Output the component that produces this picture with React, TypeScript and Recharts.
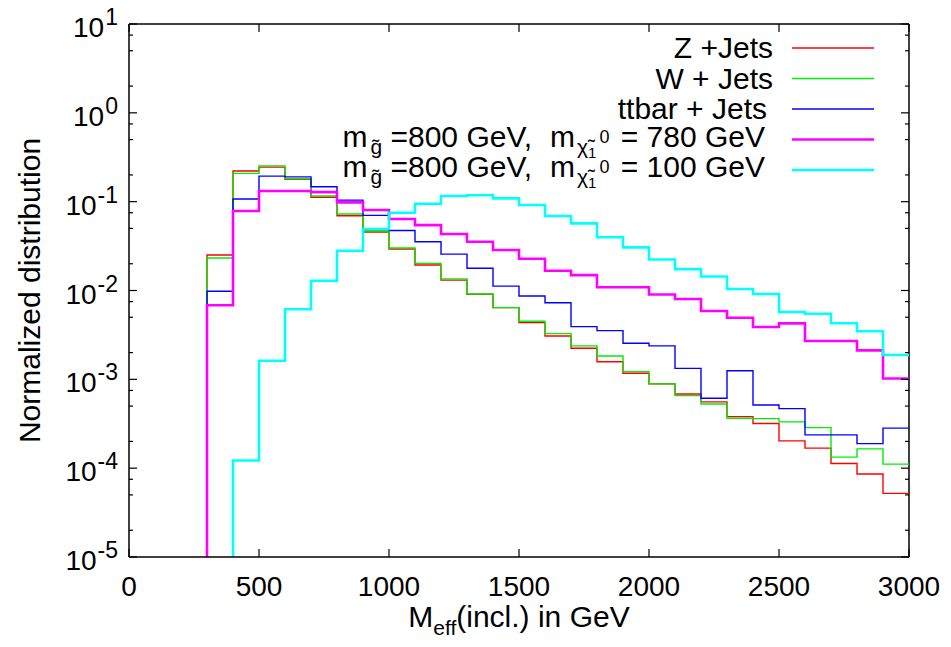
import React from 'react';
import { LineChart, Line, XAxis, YAxis, ReferenceLine } from 'recharts';

// lower edges of the 100 GeV bins
const binStarts = [
  300, 400, 500, 600, 700, 800, 900, 1000, 1100, 1200, 1300, 1400, 1500, 1600,
  1700, 1800, 1900, 2000, 2100, 2200, 2300, 2400, 2500, 2600, 2700, 2800, 2900,
];

const zJets = [
  0.0251, 0.221, 0.245, 0.178, 0.112, 0.0694, 0.0455, 0.0293, 0.0194, 0.0131, 0.00906, 0.00641, 0.00435, 0.00308,
  0.00224, 0.00158, 0.00117, 0.000888, 0.000685, 0.000557, 0.00038, 0.000318, 0.000203, 0.000168, 0.000113, 0.000086, 0.000052,
];
const wJets = [
  0.0232, 0.208, 0.253, 0.181, 0.116, 0.0726, 0.0471, 0.0301, 0.0202, 0.0135, 0.00914, 0.00641, 0.00451, 0.00327,
  0.00238, 0.00183, 0.00122, 0.000888, 0.000656, 0.000528, 0.000365, 0.000361, 0.000332, 0.000286, 0.000133, 0.000165, 0.000111,
];
const ttbarJets = [
  0.0098, 0.107, 0.194, 0.19, 0.147, 0.104, 0.0701, 0.0473, 0.0354, 0.0257, 0.0178, 0.0112, 0.00867, 0.00729,
  0.00392, 0.00353, 0.00255, 0.00238, 0.00133, 0.000613, 0.00125, 0.000515, 0.000468, 0.000237, 0.000237, 0.000189, 0.000282,
];
const gluino780 = [
  0.00682, 0.0784, 0.132, 0.132, 0.128, 0.0982, 0.0805, 0.0637, 0.0545, 0.0432, 0.0354, 0.0286, 0.0228, 0.0167,
  0.0149, 0.0109, 0.0109, 0.00902, 0.00802, 0.00588, 0.00494, 0.00388, 0.00427, 0.0027, 0.0027, 0.00212, 0.00102,
];
const gluino100 = [
  null, 0.000122, 0.00162, 0.00615, 0.0129, 0.028, 0.0492, 0.075, 0.0947, 0.116, 0.118, 0.109, 0.0916, 0.0689,
  0.057, 0.0397, 0.0306, 0.0223, 0.0174, 0.0144, 0.0104, 0.00914, 0.00573, 0.00548, 0.00428, 0.00348, 0.00188,
];

const xTicks = [0, 500, 1000, 1500, 2000, 2500, 3000];
const decades = [-5, -4, -3, -2, -1, 0, 1];
const minorSteps = [2, 5, 7.5];

const W = 951;
const H = 647;
const AXIS_W = 1;
const M = { top: 24, right: 42, bottom: 90 - AXIS_W, left: 129 - AXIS_W };
const PLOT_L = 129;
const PLOT_T = 24;
const PW = 780;
const PH = 533;
const FONT = '"Liberation Sans", Arial, Helvetica, sans-serif';

const Y_MIN = 10 ** decades[0];
const Y_MAX = 10 ** decades[decades.length - 1];
const BIN_W = binStarts[1] - binStarts[0];

const yTicks: number[] = [];
decades.forEach((d) => {
  yTicks.push(10 ** d);
  if (d < decades[decades.length - 1]) minorSteps.forEach((m) => yTicks.push(m * 10 ** d));
});

// histogram outline: rise from the floor at the first filled bin, step along, close at the last edge
function toSteps(values: (number | null)[]) {
  const pts: { m: number; v: number }[] = [];
  values.forEach((v, i) => {
    if (v == null) return;
    if (pts.length === 0) pts.push({ m: binStarts[i], v: Y_MIN });
    pts.push({ m: binStarts[i], v });
  });
  pts.push({ m: binStarts[binStarts.length - 1] + BIN_W, v: values[values.length - 1] as number });
  return pts;
}

const series = [
  { key: 'z', data: zJets, color: '#ff0000', width: 1.4 },
  { key: 'w', data: wJets, color: '#00ee00', width: 1.4 },
  { key: 'tt', data: ttbarJets, color: '#0000ff', width: 1.4 },
  { key: 'g780', data: gluino780, color: '#ff00ff', width: 2.6 },
  { key: 'g100', data: gluino100, color: '#00ffff', width: 2.6 },
];

function YTick(props: any) {
  const { y, payload } = props;
  const e = Math.log10(payload.value);
  const major = Math.abs(e - Math.round(e)) < 1e-9;
  const len = major ? 8 : 4;
  const x0 = PLOT_L;
  const x1 = PLOT_L + PW;
  return (
    <g>
      <line x1={x0} x2={x0 + len} y1={y} y2={y} stroke="#000" strokeWidth={1.2} />
      <line x1={x1} x2={x1 - len} y1={y} y2={y} stroke="#000" strokeWidth={1.2} />
      {major && (
        <text x={x0 - 11} y={y + 13} textAnchor="end" fontSize={28} fontFamily={FONT} fill="#000">
          10<tspan dx={1} dy={-12} fontSize={23}>{Math.round(e)}</tspan>
        </text>
      )}
    </g>
  );
}

function XTick(props: any) {
  const { x, payload } = props;
  const yb = PLOT_T + PH;
  return (
    <g>
      <line x1={x} x2={x} y1={yb} y2={yb - 8} stroke="#000" strokeWidth={1.2} />
      <line x1={x} x2={x} y1={PLOT_T} y2={PLOT_T + 8} stroke="#000" strokeWidth={1.2} />
      <text x={x} y={yb + 39} textAnchor="middle" fontSize={28} fontFamily={FONT} fill="#000">
        {payload.value}
      </text>
    </g>
  );
}

function MassLabel({ lsp }: { lsp: string }) {
  return (
    <>
      m<tspan dx={3} dy={7} fontSize={21}>g̃</tspan>
      <tspan dy={-7} fontSize={30}>{' =800 GeV,'}</tspan>
      <tspan dx={18} fontSize={30}>m</tspan>
      <tspan dx={2} dy={7} fontSize={21}>χ̃</tspan>
      <tspan dy={4} fontSize={15}>1</tspan>
      <tspan dx={3} dy={-15} fontSize={18}>0</tspan>
      <tspan dx={3} dy={4} fontSize={30}>{` = ${lsp} GeV`}</tspan>
    </>
  );
}

const legendRows = [
  { label: 'Z +Jets', color: '#ff0000', width: 1.4, size: 30, base: 10, end: 773 },
  { label: 'W + Jets', color: '#00ee00', width: 1.4, size: 30, base: 10, end: 773 },
  { label: 'ttbar + Jets', color: '#0000ff', width: 1.4, size: 30, base: 10, end: 767 },
  { label: <MassLabel lsp="780" />, color: '#ff00ff', width: 2.6, size: 30, base: 7, end: 765 },
  { label: <MassLabel lsp="100" />, color: '#00ffff', width: 2.6, size: 30, base: 7, end: 765 },
];

export default function App() {
  return (
    <div style={{ position: 'absolute', left: 0, top: 0, width: W, height: H, background: '#fff' }}>
      <LineChart width={W} height={H} margin={M}>
        <XAxis
          xAxisId="m"
          dataKey="m"
          type="number"
          domain={[0, 3000]}
          ticks={xTicks}
          interval={0}
          height={AXIS_W}
          tickSize={0}
          tickLine={false}
          tick={<XTick />}
          axisLine={{ stroke: '#000', strokeWidth: 1.5 }}
          allowDataOverflow
        />
        <YAxis
          yAxisId="v"
          dataKey="v"
          type="number"
          scale="log"
          domain={[Y_MIN, Y_MAX]}
          ticks={yTicks}
          interval={0}
          width={AXIS_W}
          tickSize={0}
          tickLine={false}
          tick={<YTick />}
          axisLine={{ stroke: '#000', strokeWidth: 1.5 }}
          allowDataOverflow
        />
        <ReferenceLine xAxisId="m" yAxisId="v" y={Y_MAX} stroke="#000" strokeWidth={1.5} />
        <ReferenceLine xAxisId="m" yAxisId="v" x={3000} stroke="#000" strokeWidth={1.5} />
        {series.map((s) => (
          <Line
            key={s.key}
            xAxisId="m"
            yAxisId="v"
            data={toSteps(s.data)}
            dataKey="v"
            type="stepAfter"
            stroke={s.color}
            strokeWidth={s.width}
            dot={false}
            activeDot={false}
            isAnimationActive={false}
          />
        ))}
      </LineChart>
      <svg
        width={W}
        height={H}
        style={{ position: 'absolute', left: 0, top: 0, pointerEvents: 'none', fontFamily: FONT }}
      >
        {legendRows.map((r, i) => {
          const y = 48 + i * 30.5;
          return (
            <g key={i}>
              <text x={r.end} y={y + r.base} textAnchor="end" fontSize={r.size} fill="#000" style={{ whiteSpace: 'pre' }}>
                {r.label}
              </text>
              <line x1={792} x2={874} y1={y} y2={y} stroke={r.color} strokeWidth={r.width} />
            </g>
          );
        })}
        <text
          transform={`translate(40, ${PLOT_T + PH / 2}) rotate(-90)`}
          textAnchor="middle"
          fontSize={30}
          fill="#000"
        >
          Normalized distribution
        </text>
        <text x={PLOT_L + PW / 2} y={627} textAnchor="middle" fontSize={30} fill="#000">
          M<tspan dy={8} fontSize={21}>eff</tspan>
          <tspan dy={-8}>(incl.) in GeV</tspan>
        </text>
      </svg>
    </div>
  );
}
